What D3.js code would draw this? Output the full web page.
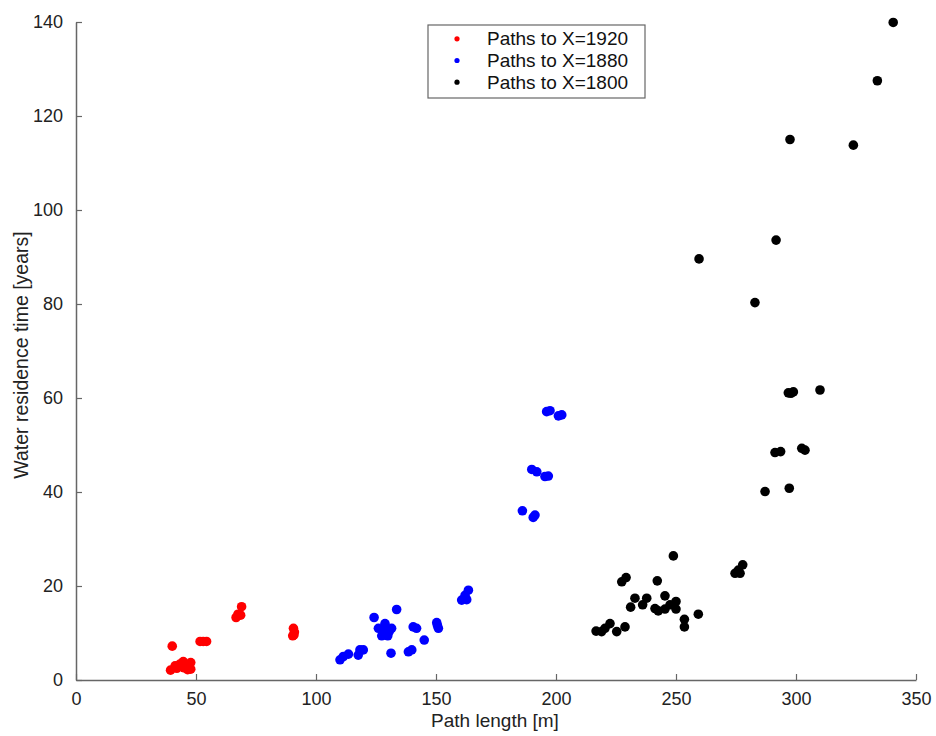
<!DOCTYPE html>
<html>
<head>
<meta charset="utf-8">
<script src="https://cdn.jsdelivr.net/npm/d3@7"></script>
<style>
  html, body { margin: 0; padding: 0; background: #fff; }
  svg { display: block; }
  text { font-family: Arial, "Liberation Sans", sans-serif; }
</style>
</head>
<body>
<svg id="chart" width="936" height="736"></svg>
<script>
// Path length [m] and water residence time [years] for each group of paths
const seriesNames = ["Paths to X=1920", "Paths to X=1880", "Paths to X=1800"];
const seriesColors = ["#ff0000", "#0000ff", "#000000"];

const path1920 = [
  [40.1, 7.2], [39.4, 2.1], [41.3, 3.0], [42.0, 2.5], [43.3, 3.4], [44.7, 3.9],
  [46.1, 3.0], [47.8, 3.7], [47.8, 2.3], [46.5, 2.2], [45.0, 2.6],
  [51.7, 8.2], [53.0, 8.2], [54.4, 8.2],
  [66.7, 13.3], [67.5, 14.0], [68.6, 13.8], [69.0, 15.6],
  [90.6, 11.0], [90.8, 9.6], [91.0, 10.2], [90.3, 9.4]
];
const path1880 = [
  [110.0, 4.3], [111.4, 5.0], [113.5, 5.5], [117.6, 5.3], [118.3, 6.4], [119.7, 6.4],
  [124.2, 13.3], [126.0, 11.0], [128.75, 12.0], [128.75, 10.6], [130.5, 10.3],
  [127.4, 9.4], [129.9, 9.4], [131.5, 11.0], [133.6, 15.0], [131.25, 5.7],
  [138.5, 6.0], [139.9, 6.4], [140.5, 11.3], [141.9, 11.0], [145.1, 8.5],
  [150.3, 12.2], [150.6, 11.6], [151.0, 11.0],
  [160.7, 17.0], [162.1, 18.0], [162.8, 17.1], [163.5, 19.1],
  [186.0, 36.0], [190.5, 34.6], [191.25, 35.1],
  [189.9, 44.8], [192.0, 44.3], [195.4, 43.3], [196.8, 43.4],
  [196.1, 57.1], [197.5, 57.3], [201.0, 56.2], [202.4, 56.4]
];
const path1800 = [
  [216.7, 10.4], [219.0, 10.3], [220.4, 11.0], [222.5, 12.0], [225.3, 10.3], [228.75, 11.3],
  [227.4, 20.9], [229.2, 21.8], [231.1, 15.5], [232.9, 17.4], [236.1, 16.0], [237.8, 17.4],
  [242.2, 21.1], [241.25, 15.2], [242.6, 14.7], [245.4, 17.9], [245.4, 15.1],
  [247.5, 16.0], [250.0, 16.7], [250.0, 15.1], [248.9, 26.4],
  [253.5, 12.9], [253.5, 11.3], [259.3, 14.0],
  [274.6, 22.7], [276.0, 23.4], [276.7, 22.7], [277.8, 24.5],
  [259.6, 89.6], [282.9, 80.3], [291.7, 93.6],
  [296.8, 61.1], [297.9, 61.0], [298.9, 61.3], [310.0, 61.7],
  [291.25, 48.4], [293.6, 48.6], [302.4, 49.3], [303.75, 48.9],
  [287.1, 40.1], [297.2, 40.8],
  [297.5, 115.0], [323.9, 113.8], [333.9, 127.5], [340.5, 139.9]
];
const seriesData = [path1920, path1880, path1800];

const xTicks = [0, 50, 100, 150, 200, 250, 300, 350];
const yTicks = [0, 20, 40, 60, 80, 100, 120, 140];

const svg = d3.select("#chart");
const plotLeft = 76, plotRight = 916, plotTop = 22, plotBottom = 680;

const x = d3.scaleLinear().domain([0, 350]).range([plotLeft, plotRight]);
const y = d3.scaleLinear().domain([0, 140]).range([plotBottom, plotTop]);

const axisColor = "#666";

// Bottom axis with inward ticks
const xAxis = svg.append("g")
  .attr("transform", `translate(0,${plotBottom})`)
  .call(d3.axisBottom(x).tickValues(xTicks).tickSizeInner(-6).tickSizeOuter(0).tickPadding(12));
// Left axis with inward ticks
const yAxis = svg.append("g")
  .attr("transform", `translate(${plotLeft},0)`)
  .call(d3.axisLeft(y).tickValues(yTicks).tickSizeInner(-6).tickSizeOuter(0).tickPadding(13));

[xAxis, yAxis].forEach(g => {
  g.select(".domain").attr("stroke", axisColor).attr("stroke-width", 1.5);
  g.selectAll(".tick line").attr("stroke", axisColor).attr("stroke-width", 1.2);
  g.selectAll(".tick text").attr("fill", "#222").style("font-size", "18px")
    .style("font-family", "Arial, 'Liberation Sans', sans-serif");
});

// Axis titles
svg.append("text")
  .attr("x", 495)
  .attr("y", 727)
  .attr("text-anchor", "middle")
  .attr("fill", "#222")
  .style("font-size", "19px")
  .text("Path length [m]");

svg.append("text")
  .attr("transform", "translate(28,355) rotate(-90)")
  .attr("text-anchor", "middle")
  .attr("fill", "#222")
  .style("font-size", "19.5px")
  .text("Water residence time [years]");

// Scatter points
seriesData.forEach((pts, i) => {
  svg.append("g").selectAll("circle")
    .data(pts)
    .join("circle")
    .attr("cx", d => x(d[0]))
    .attr("cy", d => y(d[1]))
    .attr("r", 4.8)
    .attr("fill", seriesColors[i]);
});

// Legend
const legend = svg.append("g").attr("transform", "translate(428,25)");
legend.append("rect")
  .attr("width", 217).attr("height", 73)
  .attr("fill", "#fff")
  .attr("stroke", "#666").attr("stroke-width", 1.2);
seriesNames.forEach((name, i) => {
  const row = legend.append("g").attr("transform", `translate(0,${13.8 + i * 21.7})`);
  row.append("circle").attr("cx", 29).attr("cy", 0).attr("r", 2.6).attr("fill", seriesColors[i]);
  row.append("text")
    .attr("x", 59).attr("y", 0).attr("dy", "0.35em")
    .attr("fill", "#111")
    .style("font-size", "19px")
    .text(name);
});
</script>
</body>
</html>
